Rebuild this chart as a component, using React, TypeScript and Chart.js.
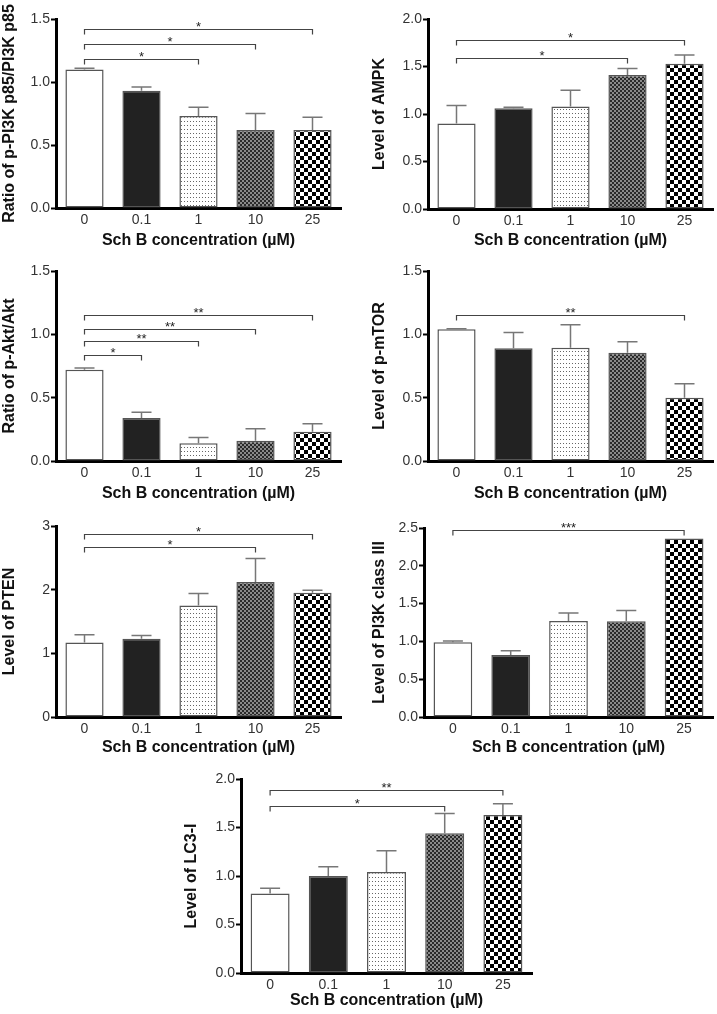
import React, { useEffect, useRef } from 'react';
import { Chart, registerables } from 'chart.js';

Chart.register(...registerables);

const FONT = '"Liberation Sans", Arial, Helvetica, sans-serif';

const categories = ['0', '0.1', '1', '10', '25'];
const xAxisTitle = 'Sch B concentration (µM)';

type Bracket = [number, number, number, string];

// Panel 1: p-PI3K p85 / PI3K p85
const pi3kP85Means = [1.1, 0.93, 0.73, 0.62, 0.62];
const pi3kP85Sem = [0.01, 0.03, 0.07, 0.13, 0.1];
const pi3kP85Brackets: Bracket[] = [[0, 2, 1.18, '*'], [0, 3, 1.3, '*'], [0, 4, 1.42, '*']];

// Panel 2: AMPK
const ampkMeans = [0.9, 1.06, 1.08, 1.41, 1.53];
const ampkSem = [0.19, 0.01, 0.17, 0.07, 0.09];
const ampkBrackets: Bracket[] = [[0, 3, 1.59, '*'], [0, 4, 1.78, '*']];

// Panel 3: p-Akt / Akt
const aktMeans = [0.72, 0.34, 0.14, 0.16, 0.23];
const aktSem = [0.015, 0.045, 0.045, 0.095, 0.065];
const aktBrackets: Bracket[] = [[0, 1, 0.84, '*'], [0, 2, 0.945, '**'], [0, 3, 1.04, '**'], [0, 4, 1.15, '**']];

// Panel 4: p-mTOR
const mtorMeans = [1.04, 0.89, 0.895, 0.855, 0.5];
const mtorSem = [0.005, 0.125, 0.18, 0.087, 0.11];
const mtorBrackets: Bracket[] = [[0, 4, 1.15, '**']];

// Panel 5: PTEN
const ptenMeans = [1.17, 1.23, 1.75, 2.12, 1.95];
const ptenSem = [0.12, 0.05, 0.19, 0.37, 0.04];
const ptenBrackets: Bracket[] = [[0, 3, 2.67, '*'], [0, 4, 2.87, '*']];

// Panel 6: PI3K class III
const pi3kIIIMeans = [0.99, 0.82, 1.27, 1.265, 2.36];
const pi3kIIISem = [0.015, 0.055, 0.105, 0.145, 0];
const pi3kIIIBrackets: Bracket[] = [[0, 4, 2.47, '***']];

// Panel 7: LC3-I
const lc3Means = [0.82, 1.0, 1.04, 1.44, 1.63];
const lc3Sem = [0.055, 0.095, 0.22, 0.205, 0.115];
const lc3Brackets: Bracket[] = [[0, 3, 1.72, '*'], [0, 4, 1.89, '**']];

function makePattern(w: number, h: number, draw: (c: CanvasRenderingContext2D) => void) {
  const cv = document.createElement('canvas');
  cv.width = w;
  cv.height = h;
  const c = cv.getContext('2d')!;
  draw(c);
  const main = document.createElement('canvas').getContext('2d')!;
  return main.createPattern(cv, 'repeat')!;
}

function getFills() {
  const dots = makePattern(3, 4, (c) => {
    c.fillStyle = '#fff';
    c.fillRect(0, 0, 3, 4);
    c.fillStyle = '#666';
    c.fillRect(1, 1, 1, 1);
  });
  const fine = makePattern(4, 4, (c) => {
    c.fillStyle = '#8a8a8a';
    c.fillRect(0, 0, 4, 4);
    c.fillStyle = '#2a2a2a';
    c.fillRect(0, 0, 2, 2);
    c.fillRect(2, 2, 2, 2);
  });
  const checker = makePattern(8, 8, (c) => {
    c.fillStyle = '#fff';
    c.fillRect(0, 0, 8, 8);
    c.fillStyle = '#000';
    c.fillRect(0, 0, 4, 4);
    c.fillRect(4, 4, 4, 4);
  });
  return ['#ffffff', '#222222', dots, fine, checker];
}

type PanelProps = {
  means: number[];
  sem: number[];
  brackets: Bracket[];
  yTitle: string;
  yMax: number;
  yStep: number;
  decimals: number;
  canvasLeft: number;
  canvasTop: number;
  areaLeft: number;
  areaRight: number;
  areaTop: number;
  areaBottom: number;
  titleY: number;
};

function Panel(p: PanelProps) {
  const ref = useRef<HTMLCanvasElement>(null);
  const width = p.areaRight - p.canvasLeft + 8;
  const height = p.titleY - p.canvasTop + 10;

  useEffect(() => {
    const canvas = ref.current!;
    const fills = getFills();
    const semRef = p.sem;
    const bracketRef = p.brackets;

    const overlay = {
      id: 'overlay',
      afterDatasetsDraw(chart: any) {
        const ctx = chart.ctx as CanvasRenderingContext2D;
        const y = chart.scales.y;
        const meta = chart.getDatasetMeta(0);
        ctx.save();
        // error bars (upper only)
        ctx.strokeStyle = '#777';
        ctx.lineWidth = 1.5;
        meta.data.forEach((bar: any, i: number) => {
          const v = chart.data.datasets[0].data[i] as number;
          const s = semRef[i];
          if (!s) return;
          const y0 = y.getPixelForValue(v);
          const y1 = y.getPixelForValue(v + s);
          ctx.beginPath();
          ctx.moveTo(bar.x, y0);
          ctx.lineTo(bar.x, y1);
          ctx.moveTo(bar.x - 10, y1);
          ctx.lineTo(bar.x + 10, y1);
          ctx.stroke();
        });
        // significance brackets
        ctx.strokeStyle = '#444';
        ctx.lineWidth = 1.2;
        ctx.fillStyle = '#222';
        ctx.font = `13px ${FONT}`;
        ctx.textAlign = 'center';
        ctx.textBaseline = 'alphabetic';
        bracketRef.forEach(([a, b, val, label]) => {
          const xa = meta.data[a].x;
          const xb = meta.data[b].x;
          const yy = Math.round(y.getPixelForValue(val)) + 0.5;
          ctx.beginPath();
          ctx.moveTo(xa, yy + 5);
          ctx.lineTo(xa, yy);
          ctx.lineTo(xb, yy);
          ctx.lineTo(xb, yy + 5);
          ctx.stroke();
          ctx.fillText(label, (xa + xb) / 2, yy + 1.5);
        });
        ctx.restore();
      },
    };

    const chart = new Chart(canvas, {
      type: 'bar',
      data: {
        labels: categories,
        datasets: [
          {
            data: p.means,
            backgroundColor: fills as any,
            borderColor: '#555',
            borderWidth: 1.5,
            borderSkipped: false,
            barPercentage: 0.67,
            categoryPercentage: 1,
          },
        ],
      },
      options: {
        responsive: false,
        animation: false,
        events: [],
        layout: {
          padding: { top: p.areaTop - p.canvasTop, right: 8, left: 0, bottom: 0 },
        },
        plugins: { legend: { display: false }, tooltip: { enabled: false } },
        scales: {
          x: {
            type: 'category',
            offset: true,
            grid: { display: true, drawOnChartArea: false, drawTicks: false },
            border: { display: true, color: '#000', width: 3 },
            ticks: {
              color: '#333',
              font: { family: FONT, size: 14 },
              padding: 4,
              maxRotation: 0,
              autoSkip: false,
            },
            title: {
              display: true,
              text: xAxisTitle,
              color: '#111',
              font: { family: FONT, size: 16, weight: 'bold' },
              padding: 0,
            },
            afterFit: (s: any) => {
              s.height = height - (p.areaBottom - p.canvasTop);
            },
          },
          y: {
            min: 0,
            max: p.yMax,
            grid: {
              display: true,
              drawOnChartArea: false,
              drawTicks: true,
              tickLength: 5,
              tickColor: '#000',
              tickWidth: 2,
            },
            border: { display: true, color: '#000', width: 3 },
            ticks: {
              stepSize: p.yStep,
              color: '#333',
              font: { family: FONT, size: 14 },
              padding: 1,
              callback: (v: any) => Number(v).toFixed(p.decimals),
            },
            title: {
              display: true,
              text: p.yTitle,
              color: '#111',
              font: { family: FONT, size: 16, weight: 'bold' },
              padding: 0,
            },
            afterFit: (s: any) => {
              s.width = p.areaLeft - p.canvasLeft;
            },
          },
        },
      },
      plugins: [overlay],
    } as any);
    return () => chart.destroy();
  }, []);

  return (
    <canvas
      ref={ref}
      width={width}
      height={height}
      style={{ position: 'absolute', left: p.canvasLeft, top: p.canvasTop, width, height }}
    />
  );
}

export default function App() {
  return (
    <div
      style={{
        position: 'absolute',
        left: 0,
        top: 0,
        width: 717,
        height: 1014,
        background: '#fff',
        overflow: 'hidden',
      }}
    >
      <Panel means={pi3kP85Means} sem={pi3kP85Sem} brackets={pi3kP85Brackets}
        yTitle="Ratio of p-PI3K p85/PI3K p85" yMax={1.5} yStep={0.5} decimals={1}
        canvasLeft={0} canvasTop={0} areaLeft={56} areaRight={341} areaTop={19} areaBottom={208} titleY={240} />
      <Panel means={ampkMeans} sem={ampkSem} brackets={ampkBrackets}
        yTitle="Level of AMPK" yMax={2} yStep={0.5} decimals={1}
        canvasLeft={370} canvasTop={0} areaLeft={428} areaRight={713} areaTop={19} areaBottom={209} titleY={240} />
      <Panel means={aktMeans} sem={aktSem} brackets={aktBrackets}
        yTitle="Ratio of p-Akt/Akt" yMax={1.5} yStep={0.5} decimals={1}
        canvasLeft={0} canvasTop={250} areaLeft={56} areaRight={341} areaTop={271} areaBottom={461} titleY={493} />
      <Panel means={mtorMeans} sem={mtorSem} brackets={mtorBrackets}
        yTitle="Level of p-mTOR" yMax={1.5} yStep={0.5} decimals={1}
        canvasLeft={370} canvasTop={250} areaLeft={428} areaRight={713} areaTop={271} areaBottom={461} titleY={493} />
      <Panel means={ptenMeans} sem={ptenSem} brackets={ptenBrackets}
        yTitle="Level of PTEN" yMax={3} yStep={1} decimals={0}
        canvasLeft={0} canvasTop={500} areaLeft={56} areaRight={341} areaTop={526} areaBottom={717} titleY={747} />
      <Panel means={pi3kIIIMeans} sem={pi3kIIISem} brackets={pi3kIIIBrackets}
        yTitle="Level of PI3K class III" yMax={2.5} yStep={0.5} decimals={1}
        canvasLeft={370} canvasTop={500} areaLeft={424} areaRight={713} areaTop={528} areaBottom={717} titleY={747} />
      <Panel means={lc3Means} sem={lc3Sem} brackets={lc3Brackets}
        yTitle="Level of LC3-I" yMax={2} yStep={0.5} decimals={1}
        canvasLeft={182} canvasTop={760} areaLeft={241} areaRight={532} areaTop={779} areaBottom={973} titleY={1000} />
    </div>
  );
}
